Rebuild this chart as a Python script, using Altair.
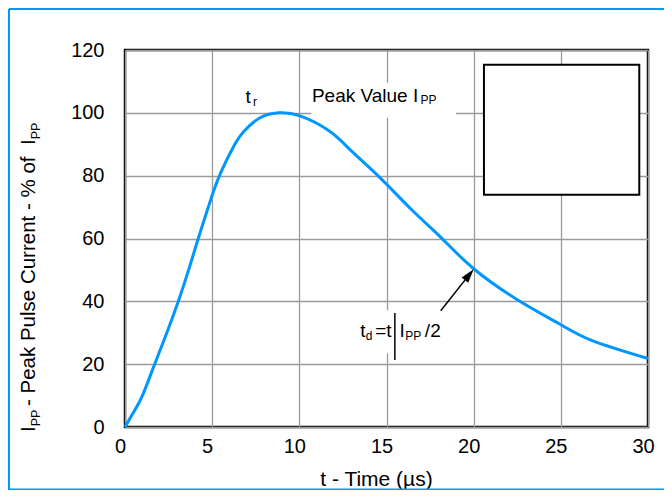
import altair as alt
import pandas as pd

# ---- data ----
t_us = [0, 0.5, 1.0, 1.7, 2.4, 3.06, 3.65, 4.2, 4.78, 5.42, 6.3, 6.8, 7.7, 8.8,
        10.0, 11.72, 13.0, 14.58, 16.49, 18.2, 20.02, 22.6, 24.93, 26.8, 30.0]
ipp_pct = [0, 4.8, 10, 20, 30, 40, 50, 60, 70, 80, 90, 94.0, 98.3, 100,
           99.1, 94.2, 87.8, 79.6, 68.9, 59.9, 50.3, 40.2, 32.8, 27.5, 21.8]
x_ticks = [0, 5, 10, 15, 20, 25, 30]
y_ticks = [0, 10, 20, 30, 40, 50, 60, 70, 80, 90, 100, 110, 120]

FONT = "Liberation Sans"
BLUE = "#0096ff"
ONE = pd.DataFrame({"k": [0]})

curve_df = pd.DataFrame({"t": t_us, "v": ipp_pct})

x_axis = alt.Axis(values=x_ticks, title="t - Time (µs)", grid=True, gridColor="#9a9a9a",
                  gridWidth=1.3, ticks=False, domain=False, labelFontSize=20, labelFont=FONT,
                  labelColor="black", labelPadding=9, labelOffset=-5, labelFlush=False,
                  titleFont=FONT, titleFontSize=21, titleFontWeight="normal", titleColor="black",
                  titleX=251, titleY=58, titleBaseline="alphabetic", titleAlign="center")
y_axis = alt.Axis(values=y_ticks, title=None, grid=True, gridColor="#9a9a9a", gridWidth=1.3,
                  ticks=False, domain=False, labelFontSize=20, labelFont=FONT,
                  labelColor="black", labelPadding=21, labelFlush=False,
                  labelExpr="datum.value % 20 === 0 ? datum.label : ''")

xs = alt.Scale(domain=[0, 30], nice=False, zero=False)
ys = alt.Scale(domain=[0, 120], nice=False, zero=False)

# white backgrounds behind annotations (hide grid lines)
bg = alt.Chart(pd.DataFrame({"x1": [10.69, 13.26], "x2": [18.98, 18.13],
                             "y1": [98.4, 23.5], "y2": [109.6, 37.2]})).mark_rect(
    fill="white").encode(
    x=alt.X("x1:Q", scale=xs, axis=x_axis), x2="x2:Q",
    y=alt.Y("y1:Q", scale=ys, axis=y_axis), y2="y2:Q")

curve = alt.Chart(curve_df).mark_line(color=BLUE, strokeWidth=3, interpolate="natural").encode(
    x=alt.X("t:Q", scale=xs), y=alt.Y("v:Q", scale=ys))


def txt(x, y, s, size=19):
    return alt.Chart(ONE).mark_text(text=s, align="left", baseline="alphabetic", fontSize=size,
                                    font=FONT, color="black").encode(
        x=alt.datum(x), y=alt.datum(y))


def ptxt(x, y, s, size=20.5):
    return alt.Chart(ONE).mark_text(text=s, align="left", baseline="alphabetic", fontSize=size,
                                    font=FONT, color="black", angle=270).encode(
        x=alt.value(x), y=alt.value(y))


texts = [
    txt(6.91, 103.1, "t"), txt(7.34, 102.3, "r", 12),
    txt(10.72, 103.6, "Peak Value I"), txt(16.95, 102.9, "PP", 12),
    txt(13.49, 28.7, "t"), txt(13.81, 27.8, "d", 12), txt(14.35, 28.7, "=t"),
    txt(15.75, 28.7, "I"), txt(16.07, 27.8, "PP", 12), txt(17.2, 28.7, "/2"),
]

bar = alt.Chart(ONE).mark_rule(color="black", strokeWidth=1.5).encode(
    x=alt.datum(15.48), y=alt.datum(36.3), y2=alt.datum(21.3))

arrow_line = alt.Chart(ONE).mark_rule(color="black", strokeWidth=1.5).encode(
    x=alt.datum(18.11), y=alt.datum(37.0), x2=alt.datum(19.75), y2=alt.datum(48.5))
arrow_head = alt.Chart(ONE).mark_point(shape="M0,-1L0.6,1L-0.6,1Z", size=196, filled=True,
                                       color="black", opacity=1, angle=38.8).encode(
    x=alt.datum(19.75), y=alt.datum(48.5))

inset = alt.Chart(ONE).mark_rect(fill="white", stroke="black", strokeWidth=2).encode(
    x=alt.datum(20.59), x2=alt.datum(29.5), y=alt.datum(115.3), y2=alt.datum(73.9))

# y-axis title with subscripts (rotated pieces)
ytitle = [
    ptxt(-90, 382, "I"), ptxt(-85.5, 376.3, "PP", 12.5),
    ptxt(-90, 356, " - Peak Pulse Current - % of"),
    ptxt(-90, 95, "I"), ptxt(-85.5, 89.3, "PP", 12.5),
]

# blue outer frame
frame = [
    alt.Chart(ONE).mark_rule(color=BLUE, strokeWidth=2).encode(
        x=alt.value(-116), x2=alt.value(560), y=alt.value(-41)),
    alt.Chart(ONE).mark_rule(color=BLUE, strokeWidth=2).encode(
        x=alt.value(-116), y=alt.value(-41), y2=alt.value(440)),
    alt.Chart(ONE).mark_rule(color=BLUE, strokeWidth=2).encode(
        x=alt.value(-116), x2=alt.value(560), y=alt.value(439.5)),
]

chart = alt.layer(bg, curve, *texts, bar, arrow_line, arrow_head, inset, *ytitle, *frame).properties(
    width=523, height=377,
    padding={"left": 117, "top": 42, "right": 16, "bottom": 63},
    autosize=alt.AutoSizeParams(type="none"),
    background="white",
).configure_view(stroke="black", strokeWidth=2.5)

chart.save("out.html", embed_options={"renderer": "svg", "actions": False})
